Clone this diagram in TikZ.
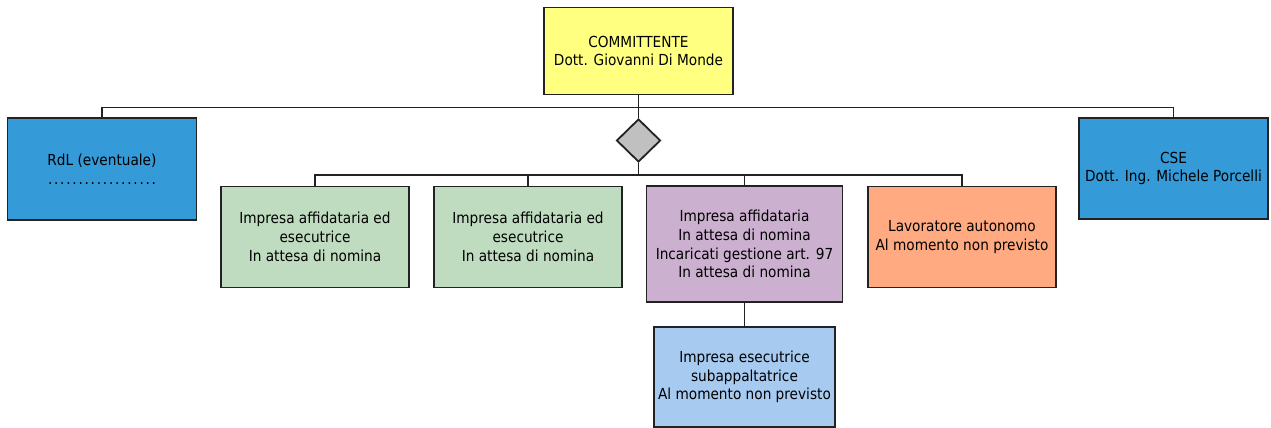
\documentclass[tikz,border=0pt]{standalone}
\usepackage{fontspec}
\setmainfont{DejaVu Sans Condensed}
\usetikzlibrary{shapes.geometric}
\definecolor{cyellow}{RGB}{255,255,128}
\definecolor{cblue}{RGB}{52,154,216}
\definecolor{cgreen}{RGB}{192,220,192}
\definecolor{cpurple}{RGB}{204,176,208}
\definecolor{corange}{RGB}{255,170,128}
\definecolor{clblue}{RGB}{166,202,240}
\definecolor{cgray}{RGB}{192,192,192}
\definecolor{cline}{RGB}{34,34,34}
\newcommand{\dotrow}{\hbox to 110pt{\xleaders\hbox to 5.8pt{\hss.\hss}\hfill}}
\tikzset{
  orgbox/.style={draw=cline, line width=1.8pt, rectangle, inner sep=0pt, align=center,
    font=\fontsize{15.2}{18.7}\selectfont, text=black},
  conn/.style={draw=cline, line width=1.8pt},
}
\begin{document}
\begin{tikzpicture}[x=1pt,y=-1pt]
\useasboundingbox (0,0) rectangle (1271,428);
\node[orgbox, fill=cyellow, minimum width=189, minimum height=87] (comm) at (638.5,51) {COMMITTENTE\\Dott. Giovanni Di Monde};
\node[orgbox, fill=cblue, minimum width=189, minimum height=102] (rdl) at (102,169) {RdL (eventuale)\\\dotrow};
\node[orgbox, fill=cblue, minimum width=189, minimum height=101] (cse) at (1173.5,168.5) {CSE\\Dott. Ing. Michele Porcelli};
\node[draw=cline, line width=1.8pt, diamond, fill=cgray, minimum width=44, minimum height=43, inner sep=0pt] (dia) at (638.5,140.5) {};
\node[orgbox, fill=cgreen, minimum width=188, minimum height=101] (g1) at (315,237) {Impresa affidataria ed\\esecutrice\\In attesa di nomina};
\node[orgbox, fill=cgreen, minimum width=188, minimum height=101] (g2) at (528,237) {Impresa affidataria ed\\esecutrice\\In attesa di nomina};
\node[orgbox, fill=cpurple, minimum width=196, minimum height=115.5] (pu) at (744.5,244) {Impresa affidataria\\In attesa di nomina\\Incaricati gestione art. 97\\In attesa di nomina};
\node[orgbox, fill=corange, minimum width=188, minimum height=101] (or) at (962,237) {Lavoratore autonomo\\Al momento non previsto};
\node[orgbox, fill=clblue, minimum width=181, minimum height=100] (sub) at (744.5,377) {Impresa esecutrice\\subappaltatrice\\Al momento non previsto};
\coordinate (top) at (638.5,107.5);
\coordinate (bus) at (638.5,175);
\draw[conn] (comm.south) -- (dia.north);
\draw[conn] (rdl.north) |- (top) -| (cse.north);
\draw[conn] (dia.south) -- (bus);
\draw[conn] (g1.north) |- (bus) -| (or.north);
\draw[conn] (g2.north) |- (bus);
\draw[conn] (pu.north) |- (bus);
\draw[conn] (pu.south) -- (sub.north);
\end{tikzpicture}
\end{document}
